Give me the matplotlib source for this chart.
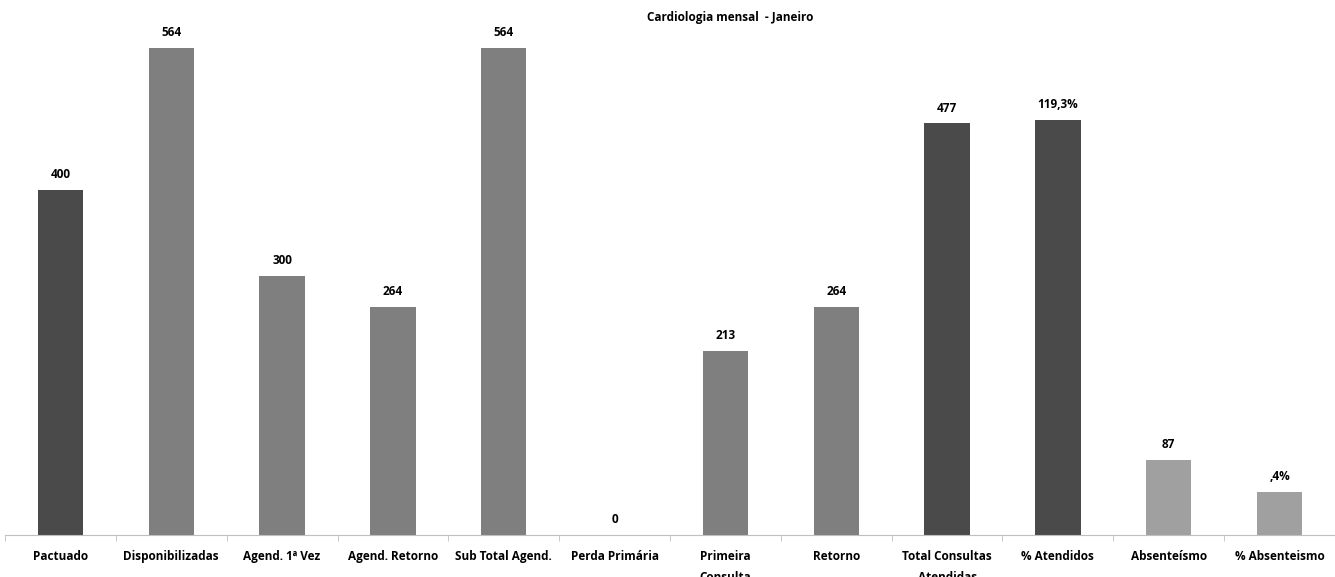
import matplotlib
matplotlib.use('Agg')
import matplotlib.pyplot as plt
import numpy as np

categorias = ['Pactuado', 'Disponibilizadas', 'Agend. 1ª Vez', 'Agend. Retorno',
              'Sub Total Agend.', 'Perda Primária', 'Primeira\nConsulta', 'Retorno',
              'Total Consultas\nAtendidas', '% Atendidos', 'Absenteísmo', '% Absenteismo']
valores = [400, 564, 300, 264, 564, 0, 213, 264, 477, 481, 87, 50]
rotulos = ['400', '564', '300', '264', '564', '0', '213', '264', '477', '119,3%', '87', ',4%']
cores = ['#4a4a4a', '#7f7f7f', '#7f7f7f', '#7f7f7f', '#7f7f7f', '#7f7f7f',
         '#7f7f7f', '#7f7f7f', '#4a4a4a', '#4a4a4a', '#a0a0a0', '#a0a0a0']

plt.rcParams['font.family'] = ['Open Sans', 'DejaVu Sans']

fig = plt.figure(figsize=(13.35, 5.77), dpi=100)
ax = fig.add_axes([5/1335, 42/577, 1 - 5/1335, 518/577])

x = np.arange(len(categorias))
ax.bar(x, valores, width=0.41, color=cores)
for xi, v, r in zip(x, valores, rotulos):
    ax.text(xi, v + 10, r, ha='center', va='bottom', fontsize=8.5, fontweight='bold')

ax.set_xlim(-0.5, len(categorias) - 0.5)
ax.set_ylim(0, 600)
ax.set_yticks([])
ax.set_xticks(x)
ax.set_xticklabels(categorias, fontsize=8.5, fontweight='bold', linespacing=1.75)
ax.tick_params(axis='x', length=0, pad=11)
ax.set_xticks(np.arange(len(categorias) + 1) - 0.5, minor=True)
ax.tick_params(axis='x', which='minor', length=4, color='#bfbfbf')
for s in ['top', 'right', 'left']:
    ax.spines[s].set_visible(False)
ax.spines['bottom'].set_color('#bfbfbf')

fig.text(730/1335, 1 - 18/577, 'Cardiologia mensal  - Janeiro', ha='center', va='center',
         fontsize=8.5, fontweight='bold')

fig.savefig('out.png', dpi=100)
